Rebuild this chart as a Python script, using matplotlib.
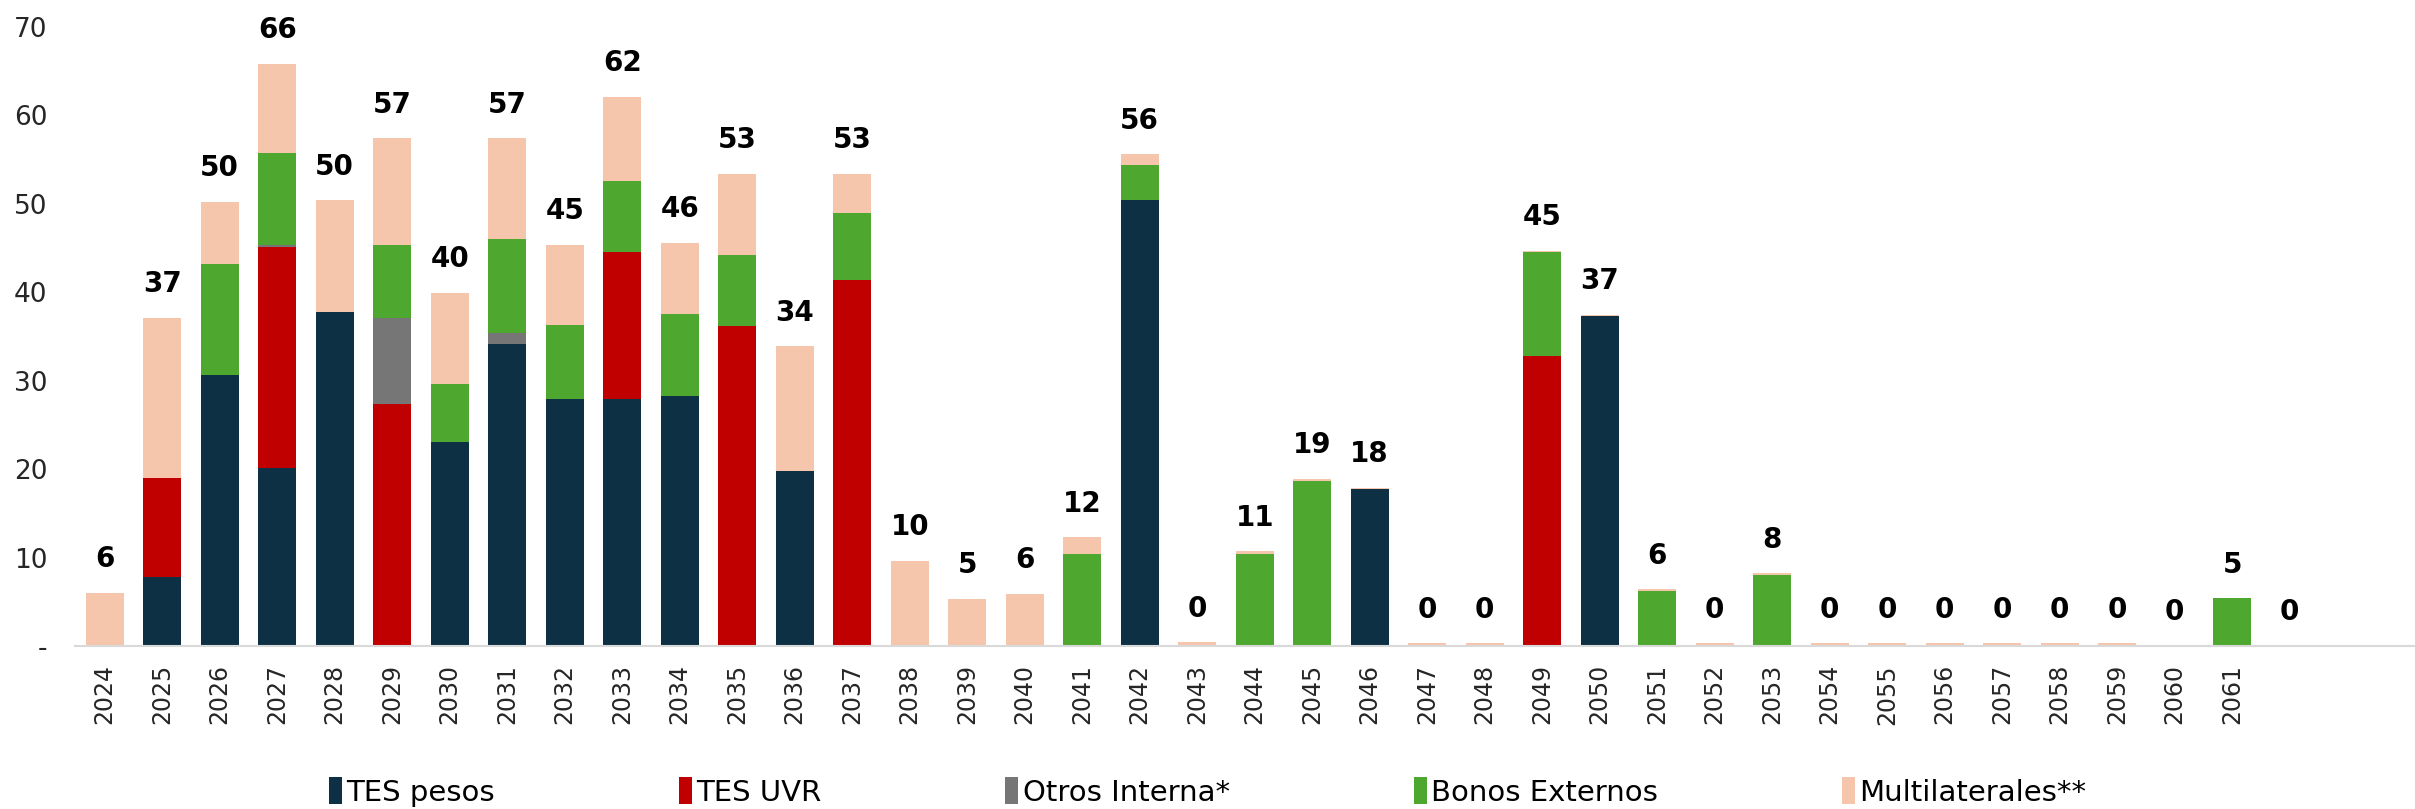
import numpy as np
import matplotlib
matplotlib.use('Agg')
import matplotlib.pyplot as plt
from matplotlib.patches import Patch

# categories (last one is an empty slot in the source chart)
years = [str(y) for y in range(2024, 2062)] + ['']

tes_pesos = [0, 7.8, 30.7, 20.1, 37.8, 0, 23.1, 34.1, 27.9, 27.9,
             28.3, 0, 19.8, 0, 0, 0, 0, 0, 50.4, 0,
             0, 0, 17.7, 0, 0, 0, 37.3, 0, 0, 0,
             0, 0, 0, 0, 0, 0, 0, 0, 0]
tes_uvr = [0, 11.2, 0, 25.0, 0, 27.4, 0, 0, 0, 16.7,
           0, 36.2, 0, 41.4, 0, 0, 0, 0, 0, 0,
           0, 0, 0, 0, 0, 32.8, 0, 0, 0, 0,
           0, 0, 0, 0, 0, 0, 0, 0, 0]
otros = [0, 0, 0, 0.3, 0, 9.7, 0, 1.3, 0, 0,
         0, 0, 0, 0, 0, 0, 0, 0, 0, 0,
         0, 0, 0, 0, 0, 0, 0, 0, 0, 0,
         0, 0, 0, 0, 0, 0, 0, 0, 0]
bonos = [0, 0, 12.5, 10.3, 0, 8.2, 6.5, 10.6, 8.4, 8.0,
         9.2, 8.0, 0, 7.6, 0, 0, 0, 10.4, 4.0, 0,
         10.4, 18.7, 0, 0, 0, 11.7, 0, 6.2, 0, 8.0,
         0, 0, 0, 0, 0, 0, 0, 5.4, 0]
multi = [6.0, 18.1, 7.0, 10.1, 12.6, 12.1, 10.3, 11.4, 9.1, 9.5,
         8.1, 9.2, 14.1, 4.4, 9.6, 5.3, 5.9, 1.9, 1.2, 0.4,
         0.3, 0.2, 0.15, 0.3, 0.3, 0.2, 0.15, 0.2, 0.3, 0.2,
         0.3, 0.3, 0.3, 0.3, 0.3, 0.3, 0, 0, 0]

series = ['TES pesos', 'TES UVR', 'Otros Interna*', 'Bonos Externos', 'Multilaterales**']
colors = ['#0D3044', '#C00000', '#767676', '#4EA72E', '#F5C6AC']

fig = plt.figure(figsize=(24.15, 8.09), dpi=100)
ax = fig.add_axes([75 / 2415, 1 - 646 / 809, 1 - 75 / 2415, (646 - 27) / 809])

x = np.arange(len(years))
bottom = np.zeros(len(years))
for name, vals, c in zip(series, [tes_pesos, tes_uvr, otros, bonos, multi], colors):
    vals = np.array(vals, dtype=float)
    ax.bar(x, vals, width=0.66, bottom=bottom, color=c, label=name, zorder=2)
    bottom += vals

# total labels
for xi, tot in zip(x, bottom):
    ax.annotate(f'{tot:.0f}', (xi, tot), xytext=(0, 18.5), textcoords='offset points',
                ha='center', va='baseline', fontsize=20, fontweight='bold',
                family='DejaVu Sans', color='black')

ax.set_ylim(0, 70)
ax.set_xlim(-0.517, 40.18)
ax.set_yticks(np.arange(0, 71, 10))
ax.set_yticklabels(['-'] + [str(v) for v in range(10, 71, 10)], family='DejaVu Sans',
                   fontsize=19, color='#262626')
ax.set_xticks(x)
ax.set_xticklabels(years, rotation=90, fontsize=17, family='DejaVu Sans', color='#262626')
ax.tick_params(axis='y', length=0, pad=20)
ax.tick_params(axis='x', length=0, pad=13)

for s in ['top', 'right', 'left']:
    ax.spines[s].set_visible(False)
ax.spines['bottom'].set_color('#D9D9D9')
ax.spines['bottom'].set_linewidth(1.5)

handles = [Patch(facecolor=c, label=n) for n, c in zip(series, colors)]
fig.legend(handles=handles, loc='center', bbox_to_anchor=(0.5, 0.021), ncol=5,
           frameon=False, prop={'family': 'DejaVu Sans', 'size': 21},
           handlelength=0.45, handleheight=1.0, handletextpad=0.15, columnspacing=6.3)

plt.savefig('out.png', dpi=100)
